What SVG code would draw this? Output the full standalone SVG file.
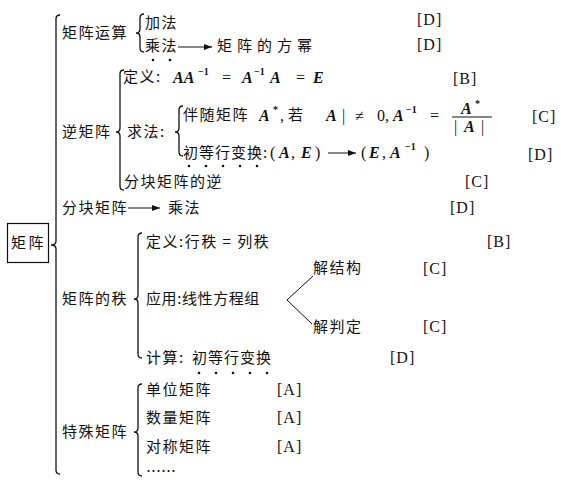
<svg xmlns="http://www.w3.org/2000/svg" width="561" height="483" viewBox="0 0 561 483">
<style>
.t{font-family:"Noto Sans CJK SC","Noto Sans",sans-serif;font-size:15px;letter-spacing:1.5px;fill:#111}
.m{font-family:"Liberation Serif",serif;font-size:16px;font-weight:bold;font-style:italic;fill:#111}
.n{font-family:"Liberation Serif",serif;font-size:16px;fill:#111}
.s{font-family:"Liberation Serif",serif;font-size:10px;font-weight:bold;fill:#111}
.g{font-family:"Liberation Serif",serif;font-size:16px;letter-spacing:1px;fill:#111}
.br{fill:none;stroke:#111;stroke-width:1.3}
.ln{fill:none;stroke:#111;stroke-width:1}
.dot{fill:#111}
</style>
<defs>
<marker id="ah" markerWidth="8" markerHeight="6" refX="8" refY="3" orient="auto" markerUnits="userSpaceOnUse">
<path d="M0,0 L8,3 L0,6 z" fill="#111"/>
</marker>
</defs>

<g id="connectors">
<path class="br" d="M60,15 Q56,15 56,19 L56,241 Q56,245 51,245 Q56,245 56,249 L56,470 Q56,474 60,474"/>
<path class="br" d="M144,14 Q140,14 140,18 L140,29 Q140,33 136,33 Q140,33 140,37 L140,48 Q140,52 144,52"/>
<path class="br" d="M124,70 Q120,70 120,74 L120,128 Q120,132 116,132 Q120,132 120,136 L120,186 Q120,190 124,190"/>
<path class="br" d="M183,106 Q179,106 179,110 L179,128 Q179,132 175,132 Q179,132 179,136 L179,152 Q179,156 183,156"/>
<path class="br" d="M142,233 Q138,233 138,237 L138,295 Q138,299 134,299 Q138,299 138,303 L138,354 Q138,358 142,358"/>
<path class="br" d="M142,384 Q138,384 138,388 L138,428 Q138,432 134,432 Q138,432 138,436 L138,472 Q138,476 142,476"/>
<line class="ln" x1="178" y1="47" x2="212" y2="47" marker-end="url(#ah)"/>
<line class="ln" x1="128" y1="208" x2="160" y2="208" marker-end="url(#ah)"/>
<line class="ln" x1="328" y1="153" x2="356" y2="153" marker-end="url(#ah)"/>
<line class="ln" x1="287" y1="300" x2="313" y2="276"/>
<line class="ln" x1="287" y1="300" x2="312" y2="324"/>
</g>

<g id="root">
<rect x="7.5" y="223.5" width="41" height="39" fill="none" stroke="#111" stroke-width="1.2"/>
<text class="t" x="11" y="248" style="letter-spacing:2.5px">矩阵</text>
</g>

<g id="n-ops"><text class="t" x="62" y="38">矩阵运算</text></g>
<g id="n-add"><text class="t" x="145" y="28">加法</text><text class="g" x="417" y="25">[D]</text></g>
<g id="n-mul">
<text class="t" x="145" y="51">乘法</text>
<circle class="dot" cx="153" cy="60" r="1.3"/><circle class="dot" cx="170" cy="60" r="1.3"/>
<text class="g" x="417" y="50">[D]</text>
</g>
<g id="n-power"><text class="t" x="217" y="51" style="letter-spacing:5px">矩阵的方幂</text></g>

<g id="n-inv"><text class="t" x="62" y="137">逆矩阵</text></g>
<g id="n-invdef">
<text class="t" x="123" y="82">定义:</text>
<text class="m" x="173" y="83">AA</text><text class="s" x="198" y="75">−1</text>
<text class="n" x="222" y="83">=</text>
<text class="m" x="242" y="83">A</text><text class="s" x="254" y="75">−1</text><text class="m" x="270" y="83">A</text>
<text class="n" x="296" y="83">=</text>
<text class="m" x="313" y="83">E</text>
<text class="g" x="453" y="84">[B]</text>
</g>
<g id="n-find"><text class="t" x="127" y="137">求法:</text></g>
<g id="n-adj">
<text class="t" x="183" y="120">伴随矩阵</text>
<text class="m" x="259" y="121">A</text><text class="s" x="273" y="113">*</text>
<text class="n" x="280" y="121">,</text>
<text class="t" x="288" y="120">若</text>
<text class="m" x="326" y="121">A</text>
<text class="n" x="342" y="121">|</text>
<text class="n" x="355" y="121">≠</text>
<text class="n" x="377" y="121">0,</text>
<text class="m" x="393" y="121">A</text><text class="s" x="406" y="113">−1</text>
<text class="n" x="430" y="121">=</text>
<text class="m" x="461" y="114">A</text><text class="s" x="475" y="107">*</text>
<line class="ln" x1="452" y1="117" x2="492" y2="117"/>
<text class="n" x="454" y="132">|</text><text class="m" x="464" y="132">A</text><text class="n" x="481" y="132">|</text>
<text class="g" x="532" y="122">[C]</text>
</g>
<g id="n-elem">
<text class="t" x="183" y="158" style="letter-spacing:1px">初等行变换:</text>
<circle class="dot" cx="189" cy="166" r="1.3"/><circle class="dot" cx="206" cy="166" r="1.3"/><circle class="dot" cx="223" cy="166" r="1.3"/><circle class="dot" cx="240" cy="166" r="1.3"/><circle class="dot" cx="257" cy="166" r="1.3"/>
<text class="n" x="270" y="158">(</text><text class="m" x="279" y="158">A</text><text class="n" x="291" y="158">,</text><text class="m" x="301" y="158">E</text><text class="n" x="315" y="158">)</text>
<text class="n" x="361" y="158">(</text><text class="m" x="369" y="158">E</text><text class="n" x="382" y="158">,</text><text class="m" x="390" y="158">A</text><text class="s" x="405" y="150">−1</text><text class="n" x="424" y="158">)</text>
<text class="g" x="528" y="160">[D]</text>
</g>
<g id="n-blockinv"><text class="t" x="124" y="187">分块矩阵的逆</text><text class="g" x="465" y="187">[C]</text></g>

<g id="n-block"><text class="t" x="62" y="213">分块矩阵</text></g>
<g id="n-mul2"><text class="t" x="168" y="213">乘法</text><text class="g" x="450" y="213">[D]</text></g>

<g id="n-rank"><text class="t" x="62" y="304">矩阵的秩</text></g>
<g id="n-rankdef"><text class="t" x="146" y="247">定义:行秩 = 列秩</text><text class="g" x="487" y="247">[B]</text></g>
<g id="n-app"><text class="t" x="146" y="304" style="letter-spacing:0.6px">应用:线性方程组</text></g>
<g id="n-struct"><text class="t" x="313" y="273">解结构</text><text class="g" x="423" y="274">[C]</text></g>
<g id="n-judge"><text class="t" x="313" y="332">解判定</text><text class="g" x="423" y="332">[C]</text></g>
<g id="n-calc">
<text class="t" x="146" y="363">计算:</text>
<text class="t" x="192" y="363" style="letter-spacing:1px">初等行变换</text>
<circle class="dot" cx="199" cy="373" r="1.3"/><circle class="dot" cx="216" cy="373" r="1.3"/><circle class="dot" cx="233" cy="373" r="1.3"/><circle class="dot" cx="250" cy="373" r="1.3"/><circle class="dot" cx="267" cy="373" r="1.3"/>
<text class="g" x="390" y="363">[D]</text>
</g>

<g id="n-special"><text class="t" x="62" y="437">特殊矩阵</text></g>
<g id="n-unit"><text class="t" x="146" y="395">单位矩阵</text><text class="g" x="277" y="395">[A]</text></g>
<g id="n-scalar"><text class="t" x="146" y="423">数量矩阵</text><text class="g" x="277" y="423">[A]</text></g>
<g id="n-sym"><text class="t" x="146" y="452">对称矩阵</text><text class="g" x="277" y="452">[A]</text></g>
<g id="n-etc"><text class="t" x="146" y="477" style="letter-spacing:0px">……</text></g>
</svg>
